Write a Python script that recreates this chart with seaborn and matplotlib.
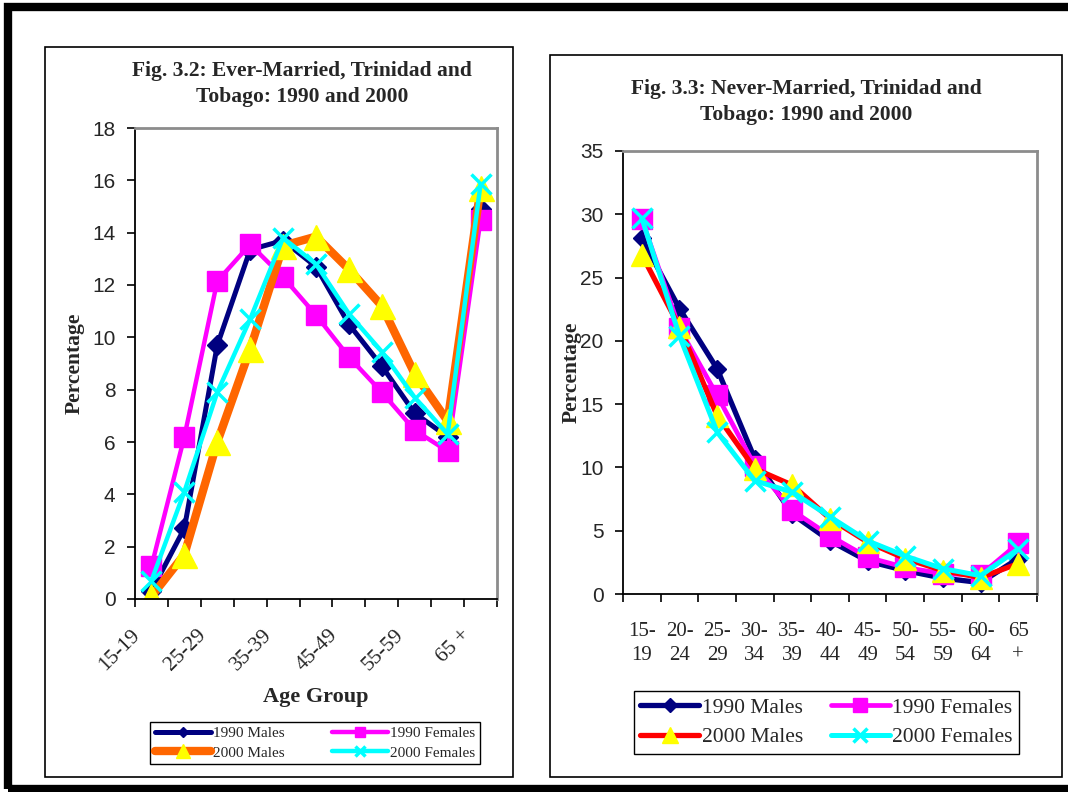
import numpy as np
import pandas as pd
import matplotlib
matplotlib.use("Agg")
import matplotlib.pyplot as plt
import matplotlib.transforms as mtransforms
import seaborn as sns
from matplotlib.patches import Rectangle
from matplotlib.ticker import FixedLocator

# ---------------- data ----------------
ages = ["15-19", "20-24", "25-29", "30-34", "35-39", "40-44",
        "45-49", "50-54", "55-59", "60-64", "65+"]
left_ticklabels = ["15-19", "", "25-29", "", "35-39", "", "45-49", "", "55-59", "", "65 +"]
right_ticklabels = ["15-\n19", "20-\n24", "25-\n29", "30-\n34", "35-\n39", "40-\n44",
                    "45-\n49", "50-\n54", "55-\n59", "60-\n64", "65\n+"]
series_names = ["1990 Males", "1990 Females", "2000 Males", "2000 Females"]

ever_1990_males = [0.3, 2.7, 9.7, 13.35, 13.7, 12.7, 10.5, 8.9, 7.1, 6.2, 14.9]
ever_1990_females = [1.25, 6.2, 12.15, 13.55, 12.3, 10.85, 9.25, 7.9, 6.45, 5.65, 14.5]
ever_2000_males = [0.1, 1.7, 6.0, 9.55, 13.5, 13.85, 12.6, 11.2, 8.6, 6.8, 15.7]
ever_2000_females = [0.7, 4.1, 7.9, 10.7, 13.8, 12.8, 10.9, 9.45, 7.7, 6.3, 15.85]

never_1990_males = [28.1, 22.55, 17.8, 10.7, 6.3, 4.2, 2.6, 1.85, 1.25, 0.9, 2.8]
never_1990_females = [29.6, 21.0, 15.7, 10.15, 6.6, 4.6, 2.9, 2.1, 1.6, 1.5, 4.0]
never_2000_males = [26.8, 21.1, 14.1, 9.9, 8.6, 5.95, 4.1, 2.8, 1.85, 1.3, 2.4]
never_2000_females = [29.7, 20.4, 12.8, 8.95, 8.05, 6.1, 4.2, 3.0, 2.0, 1.45, 3.55]

left_title = "Fig. 3.2: Ever-Married, Trinidad and\nTobago: 1990 and 2000"
right_title = "Fig. 3.3: Never-Married, Trinidad and\nTobago: 1990 and 2000"
x_title = "Age Group"
y_title = "Percentage"

ever_df = pd.DataFrame({"Age": ages * 4,
                        "Series": np.repeat(series_names, len(ages)),
                        "Value": ever_1990_males + ever_1990_females + ever_2000_males + ever_2000_females})
never_df = pd.DataFrame({"Age": ages * 4,
                         "Series": np.repeat(series_names, len(ages)),
                         "Value": never_1990_males + never_1990_females + never_2000_males + never_2000_females})

# ---------------- styles ----------------
sns.set_style("white")
plt.rcParams["font.family"] = ["Liberation Serif", "DejaVu Serif"]

left_styles = {
    "1990 Males": dict(color="#000080", marker="D", markersize=10, lw=3.6, mfc="#000080", mec="#000080", mew=1),
    "1990 Females": dict(color="#FF00FF", marker="s", markersize=14, lw=3.2, mfc="#FF00FF", mec="#FF00FF", mew=1),
    "2000 Males": dict(color="#FF6600", marker="^", markersize=18, lw=6.0, mfc="#FFFF00", mec="#FFFF00", mew=1),
    "2000 Females": dict(color="#00FFFF", marker="x", markersize=14, lw=3.2, mfc="#00FFFF", mec="#00FFFF", mew=2.5),
}
right_styles = {
    "1990 Males": dict(color="#000080", marker="D", markersize=9.5, lw=3.8, mfc="#000080", mec="#000080", mew=1),
    "1990 Females": dict(color="#FF00FF", marker="s", markersize=14, lw=3.4, mfc="#FF00FF", mec="#FF00FF", mew=1),
    "2000 Males": dict(color="#FF0000", marker="^", markersize=15.5, lw=3.8, mfc="#FFFF00", mec="#FFFF00", mew=1),
    "2000 Females": dict(color="#00FFFF", marker="x", markersize=14, lw=3.6, mfc="#00FFFF", mec="#00FFFF", mew=2.5),
}

W, H = 1068, 792
fig = plt.figure(figsize=(W / 100, H / 100), dpi=100)
fig.patch.set_facecolor("white")


def fx(px):
    return px / W


def fy(py):
    return 1 - py / H


# outer frame and panel boxes
fig.add_artist(Rectangle((fx(8), fy(789)), fx(1200), (789 - 7) / H, transform=fig.transFigure,
                         fill=False, ec="black", lw=6, clip_on=False))
fig.add_artist(Rectangle((fx(45), fy(777)), fx(513 - 45), (777 - 47) / H, transform=fig.transFigure,
                         fill=False, ec="black", lw=1.2))
fig.add_artist(Rectangle((fx(550), fy(777)), fx(1062 - 550), (777 - 55) / H, transform=fig.transFigure,
                         fill=False, ec="black", lw=1.2))

axL = fig.add_axes([fx(135), fy(599), fx(497 - 135), (599 - 128) / H])
axR = fig.add_axes([fx(623), fy(594), fx(1037 - 623), (594 - 151) / H])


def draw(ax, df, styles, yticks):
    for name in series_names:
        st = styles[name]
        sub = df[df["Series"] == name]
        sns.lineplot(data=sub, x="Age", y="Value", ax=ax, sort=False, label=name,
                     color=st["color"], linewidth=st["lw"], marker=st["marker"],
                     markersize=st["markersize"], markerfacecolor=st["mfc"],
                     markeredgecolor=st["mec"], markeredgewidth=st["mew"],
                     solid_joinstyle="miter", solid_capstyle="round")
    ax.get_legend().remove()
    ax.set_xlim(-0.5, len(ages) - 0.5)
    ax.set_ylim(yticks[0], yticks[-1])
    ax.set_yticks(yticks)
    ax.set_xlabel("")
    ax.set_ylabel(y_title, fontsize=15.5, fontweight="bold")
    for s in ["left", "bottom"]:
        ax.spines[s].set_color("black")
        ax.spines[s].set_linewidth(1.3)
    for s in ["top", "right"]:
        ax.spines[s].set_color("#8c8c8c")
        ax.spines[s].set_linewidth(2.0)
    ax.xaxis.set_minor_locator(FixedLocator(np.arange(-0.5, len(ages), 1.0)))
    ax.tick_params(axis="x", which="minor", direction="out", length=6, width=1.2, color="black", bottom=True)
    ax.tick_params(axis="y", which="major", direction="out", length=6, width=1.2, color="black", left=True,
                   pad=8)
    for lab in ax.get_yticklabels():
        lab.set_fontfamily("Liberation Sans")
        lab.set_fontsize(15)


draw(axL, ever_df, left_styles, np.arange(0, 19, 2))
axL.set_xticks(range(len(ages)))
axL.set_xticklabels(left_ticklabels, rotation=45, ha="right", va="bottom", rotation_mode="anchor",
                    fontsize=15.5)
axL.tick_params(axis="x", which="major", length=0, pad=29)
shift = mtransforms.ScaledTranslation(-7 / 100, 0, fig.dpi_scale_trans)
for lab in axL.get_xticklabels():
    lab.set_transform(lab.get_transform() + shift)
axL.yaxis.set_label_coords((85 - 135) / (497 - 135), 0.5)

draw(axR, never_df, right_styles, np.arange(0, 36, 5))
axR.set_xticks(range(len(ages)))
axR.set_xticklabels(right_ticklabels, fontsize=15, linespacing=1.35)
axR.tick_params(axis="x", which="major", length=0, pad=20)
axR.yaxis.set_label_coords((582 - 623) / (1037 - 623), 0.5)

fig.text(fx(316), fy(697), x_title, ha="center", va="center", fontsize=16, fontweight="bold")

fig.text(fx(302), fy(84), left_title, ha="center", va="center", fontsize=15.5, fontweight="bold",
         linespacing=1.42)
fig.text(fx(806), fy(102), right_title, ha="center", va="center", fontsize=15.5, fontweight="bold",
         linespacing=1.42)

# legends (row-wise order: 1990 Males, 1990 Females / 2000 Males, 2000 Females)
order = [0, 2, 1, 3]
hL, lL = axL.get_legend_handles_labels()
legL = fig.legend([hL[i] for i in order], [lL[i] for i in order], loc="center",
                  bbox_to_anchor=(fx(315), fy(743)), ncol=2, fontsize=11,
                  frameon=True, fancybox=False, edgecolor="black", framealpha=1, markerscale=0.55,
                  handlelength=3.7, handletextpad=0.1, columnspacing=3.1, borderpad=0.3,
                  labelspacing=0.4, borderaxespad=0)
legL.get_frame().set_linewidth(1.0)

hR, lR = axR.get_legend_handles_labels()
legR = fig.legend([hR[i] for i in order], [lR[i] for i in order], loc="center",
                  bbox_to_anchor=(fx(826.5), fy(722.5)), ncol=2, fontsize=15.5,
                  frameon=True, fancybox=False, edgecolor="black", framealpha=1, markerscale=0.75,
                  handlelength=2.75, handletextpad=0.1, columnspacing=1.3, borderpad=0.3,
                  labelspacing=0.45, borderaxespad=0)
legR.get_frame().set_linewidth(1.0)

fig.savefig("out.png", dpi=100, facecolor="white")
